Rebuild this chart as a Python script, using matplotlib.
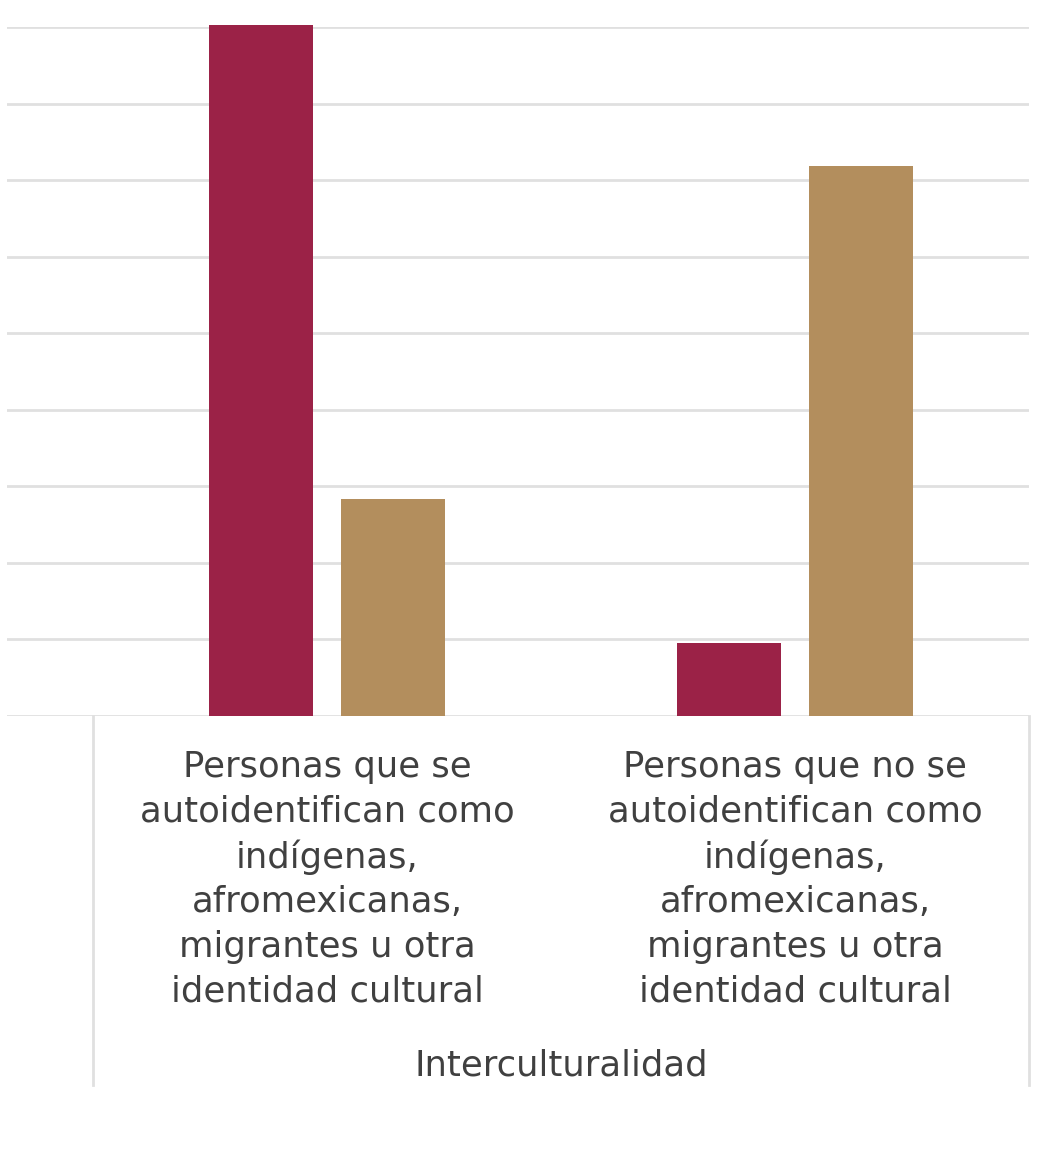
"""Interculturalidad: grouped bar chart, two series per category."""

import matplotlib

matplotlib.use("Agg")
import matplotlib.pyplot as plt
import numpy as np
from matplotlib.transforms import blended_transform_factory

categories = [
    "Personas que se\nautoidentifican como\nindígenas,\nafromexicanas,\nmigrantes u otra\nidentidad cultural",
    "Personas que no se\nautoidentifican como\nindígenas,\nafromexicanas,\nmigrantes u otra\nidentidad cultural",
]
group_label = "Interculturalidad"
series_a = [9.03, 0.95]
series_b = [2.83, 7.18]
y_ticks = list(range(0, 10))

MAROON = "#9B2247"
GOLD = "#B38E5D"
GRID = "#E0E0E0"
TEXT = "#404040"

plt.rcParams["font.family"] = ["DejaVu Sans"]

fig = plt.figure(figsize=(10.5, 11.74), dpi=100)
W, H = 1050, 1174
left, right, top, bottom = 7, 1029, 27, 716
ax = fig.add_axes([left / W, 1 - bottom / H, (right - left) / W, (bottom - top) / H])

x = np.arange(len(categories))
width = 0.222
offset = 0.1415
ax.bar(x - offset, series_a, width, color=MAROON, zorder=3, clip_on=False)
ax.bar(x + offset, series_b, width, color=GOLD, zorder=3, clip_on=False)

ax.set_xlim(-0.684, 1.5)
ax.set_ylim(0, 9)
ax.set_yticks(y_ticks)
ax.set_xticks([])
ax.tick_params(axis="y", length=0, labelleft=False)
ax.grid(True, axis="y", color=GRID, linewidth=2, zorder=0)
for side in ax.spines.values():
    side.set_visible(False)

# category box below the axis
trans = blended_transform_factory(ax.transData, ax.transAxes)
box_bottom = (bottom - 1085) / (bottom - top)
for xb in (-0.5, 1.5):
    ax.plot([xb, xb], [0, box_bottom], color=GRID, linewidth=2,
            transform=trans, clip_on=False)

label_y = (bottom - 879) / (bottom - top)
for i, label in enumerate(categories):
    ax.text(i, label_y, label, transform=trans, ha="center", va="center",
            fontsize=25.5, color=TEXT, linespacing=1.39)

ax.text(0.5, (bottom - 1065) / (bottom - top), group_label, transform=trans,
        ha="center", va="center", fontsize=25.5, color=TEXT)

fig.savefig("out.png", dpi=100)
